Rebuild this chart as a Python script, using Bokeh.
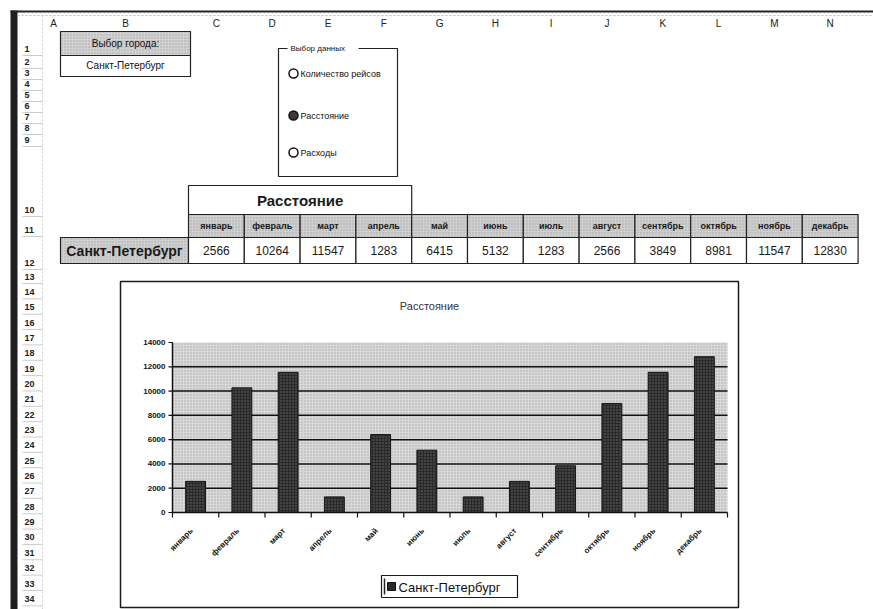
import math
from bokeh.plotting import figure
from bokeh.models import Range1d
from bokeh.core.properties import value
from bokeh.embed import file_html
from bokeh.resources import INLINE

# ---------------- data ----------------
city = "Санкт-Петербург"
city_label = "Выбор города:"
chart_title = "Расстояние"
group_title = "Выбор данных"
radio_labels = ["Количество рейсов", "Расстояние", "Расходы"]
selected_radio = 1
months = ["январь", "февраль", "март", "апрель", "май", "июнь",
          "июль", "август", "сентябрь", "октябрь", "ноябрь", "декабрь"]
distance = [2566, 10264, 11547, 1283, 6415, 5132, 1283, 2566, 3849, 8981, 11547, 12830]
y_ticks = [0, 2000, 4000, 6000, 8000, 10000, 12000, 14000]
col_letters = ["A", "B", "C", "D", "E", "F", "G", "H", "I", "J", "K", "L", "M", "N"]
row_numbers = list(range(1, 35))

# ---------------- canvas ----------------
W, H = 873, 609
FONT = value("Liberation Sans")
p = figure(width=W, height=H, x_range=Range1d(0, W), y_range=Range1d(H, 0),
           output_backend="svg", toolbar_location=None, title=None,
           min_border=0, x_axis_type=None, y_axis_type=None)
p.outline_line_color = None
p.background_fill_color = "white"
p.border_fill_color = "white"


def txt(x, y, t, size, bold=False, align="center", color="#111111",
        baseline="middle", **kw):
    p.text(x=[x], y=[y], text=[t], text_font=FONT, text_font_size=f"{size}px",
           text_font_style="bold" if bold else "normal", text_align=align,
           text_baseline=baseline, text_color=color, **kw)


# ---- window frame ----
p.quad(left=[10], right=[17], top=[10], bottom=[H], fill_color="#1e1e1e", line_color=None)
p.segment(x0=[10], x1=[W], y0=[11], y1=[11], line_color="#222222", line_width=2)
p.segment(x0=[17], x1=[W], y0=[15], y1=[15], line_color="#bbbbbb", line_width=1,
          line_dash="2 2")
p.segment(x0=[42], x1=[42], y0=[15], y1=[H], line_color="#d0d0d0", line_width=1,
          line_dash="2 2")

# ---- column letters ----
col_w = 55.8
col_left = 188.0
col_x = [53, 125] + [col_left + col_w * (i + 0.5) for i in range(12)]
for cx_, letter in zip(col_x, col_letters):
    txt(cx_, 23, letter, 10, color="#222222")

# ---- row numbers ----
row_y = [48, 61, 72, 83, 94, 105, 116, 127, 139, 209, 229, 262] + \
        [276 + 15.35 * k for k in range(22)]
for ry, rn in zip(row_y, row_numbers):
    txt(24, ry, str(rn), 9, bold=True, align="left", color="#222222")
    p.segment(x0=[22], x1=[42], y0=[ry + 7], y1=[ry + 7], line_color="#cccccc", line_width=1)

# ---- city selector ----
p.quad(left=[60], right=[190], top=[31], bottom=[55], fill_color="#d2d2d2",
       line_color="#222222", line_width=1.2, hatch_pattern="dot", hatch_color="#a8a8a8",
       hatch_scale=3)
p.quad(left=[60], right=[190], top=[55], bottom=[76], fill_color="white",
       line_color="#222222", line_width=1.2)
txt(125, 43, city_label, 10)
txt(125, 65, city, 10)

# ---- radio group ----
p.quad(left=[278], right=[397], top=[48], bottom=[176], fill_color="white",
       line_color="#222222", line_width=1.2)
p.quad(left=[287], right=[358], top=[42], bottom=[54], fill_color="white", line_color=None)
txt(290, 48, group_title, 8, align="left")
radio_y = [73, 115, 152]
for k, (ry, lab) in enumerate(zip(radio_y, radio_labels)):
    sel = (k == selected_radio)
    p.scatter(x=[293], y=[ry], size=9, marker="circle",
              fill_color="#3a3a3a" if sel else "white", line_color="#111111",
              line_width=1.5)
    txt(300, ry, lab, 9, align="left")

# ---- data table ----
p.quad(left=[col_left], right=[col_left + 4 * col_w], top=[185], bottom=[214],
       fill_color="white", line_color="#222222", line_width=1.2)
txt(col_left + 2 * col_w, 200, chart_title, 15, bold=True, color="#1a1a1a")

p.quad(left=[60], right=[col_left], top=[237], bottom=[263], fill_color="#d0d0d0",
       line_color="#222222", line_width=1.2, hatch_pattern="dot", hatch_color="#a8a8a8",
       hatch_scale=3)
txt((60 + col_left) / 2, 250, city, 14, bold=True, color="#1a1a1a")

for i, (m, v) in enumerate(zip(months, distance)):
    l = col_left + col_w * i
    r = l + col_w
    p.quad(left=[l], right=[r], top=[214], bottom=[237], fill_color="#cfcfcf",
           line_color="#222222", line_width=1.2, hatch_pattern="dot",
           hatch_color="#a8a8a8", hatch_scale=3)
    txt((l + r) / 2, 225.5, m, 9, bold=True, color="#1a1a1a")
    p.quad(left=[l], right=[r], top=[237], bottom=[263], fill_color="white",
           line_color="#222222", line_width=1.2)
    txt((l + r) / 2, 250, str(v), 12, color="#1a1a1a")

# ---- chart box ----
p.quad(left=[120], right=[738], top=[281], bottom=[607], fill_color="white",
       line_color="#1a1a1a", line_width=1.5)
txt(429, 305, chart_title, 11, color="#333333")

# plot area geometry (canvas pixels)
PA_L, PA_R, PA_T, PA_B = 172.0, 727.0, 342.0, 512.0
n = len(months)
ux = (PA_R - PA_L) / n
x_start = -0.5 - PA_L / ux
x_end = x_start + W / ux
ymax = y_ticks[-1]
uy = (PA_B - PA_T) / ymax
y_start = -(H - PA_B) / uy
y_end = y_start + H / uy
p.extra_x_ranges = {"cx": Range1d(x_start, x_end)}
p.extra_y_ranges = {"cy": Range1d(y_start, y_end)}

idx = list(range(n))
# plot area background
p.quad(left=[-0.5], right=[n - 0.5], bottom=[0], top=[ymax], fill_color="#d8d8d8",
       line_color=None, hatch_pattern="dot", hatch_color="#a8a8a8", hatch_scale=3,
       x_range_name="cx", y_range_name="cy")
# gridlines
grid_vals = y_ticks[1:-1]
p.segment(x0=[-0.5] * len(grid_vals), x1=[n - 0.5] * len(grid_vals), y0=grid_vals,
          y1=grid_vals, line_color="#111111", line_width=1.5,
          x_range_name="cx", y_range_name="cy")
# bars
p.vbar(x=idx, top=distance, bottom=0, width=0.43, fill_color="#2a2a2a",
       line_color="#151515", line_width=1, hatch_pattern="dot", hatch_color="#6a6a6a",
       hatch_scale=3, x_range_name="cx", y_range_name="cy")
# axes lines
p.segment(x0=[-0.5], x1=[n - 0.5], y0=[0], y1=[0], line_color="#111111", line_width=1.5,
          x_range_name="cx", y_range_name="cy")
p.segment(x0=[-0.5], x1=[-0.5], y0=[0], y1=[ymax], line_color="#111111", line_width=1.5,
          x_range_name="cx", y_range_name="cy")
# y ticks and labels
p.segment(x0=[PA_L - 4] * len(y_ticks), x1=[PA_L] * len(y_ticks), y0=y_ticks, y1=y_ticks,
          line_color="#111111", line_width=1.2, y_range_name="cy")
p.text(x=[-0.5] * len(y_ticks), y=y_ticks, text=[str(t) for t in y_ticks],
       x_offset=-7, text_font=FONT, text_font_size="8px", text_font_style="bold",
       text_align="right", text_baseline="middle", text_color="#111111",
       x_range_name="cx", y_range_name="cy")
# x ticks and labels
bnd = [i - 0.5 for i in range(n + 1)]
p.segment(x0=bnd, x1=bnd, y0=[PA_B] * len(bnd), y1=[PA_B + 5] * len(bnd),
          line_color="#111111", line_width=1.2, x_range_name="cx")
p.text(x=idx, y=[0] * n, text=months, x_offset=-4, y_offset=17, angle=math.pi / 4,
       text_font=FONT, text_font_size="8px", text_font_style="bold", text_align="right",
       text_baseline="middle", text_color="#111111", x_range_name="cx", y_range_name="cy")

# legend
p.quad(left=[381], right=[517], top=[575], bottom=[597], fill_color="white",
       line_color="#1a1a1a", line_width=1.2)
p.segment(x0=[384], x1=[384], y0=[578], y1=[594], line_color="#222222", line_width=1.5)
p.quad(left=[387], right=[395], top=[582], bottom=[590], fill_color="#2a2a2a",
       line_color="#111111")
txt(398, 586.5, city, 13, align="left", color="#111111")

open("out.html", "w").write(file_html(p, INLINE))
